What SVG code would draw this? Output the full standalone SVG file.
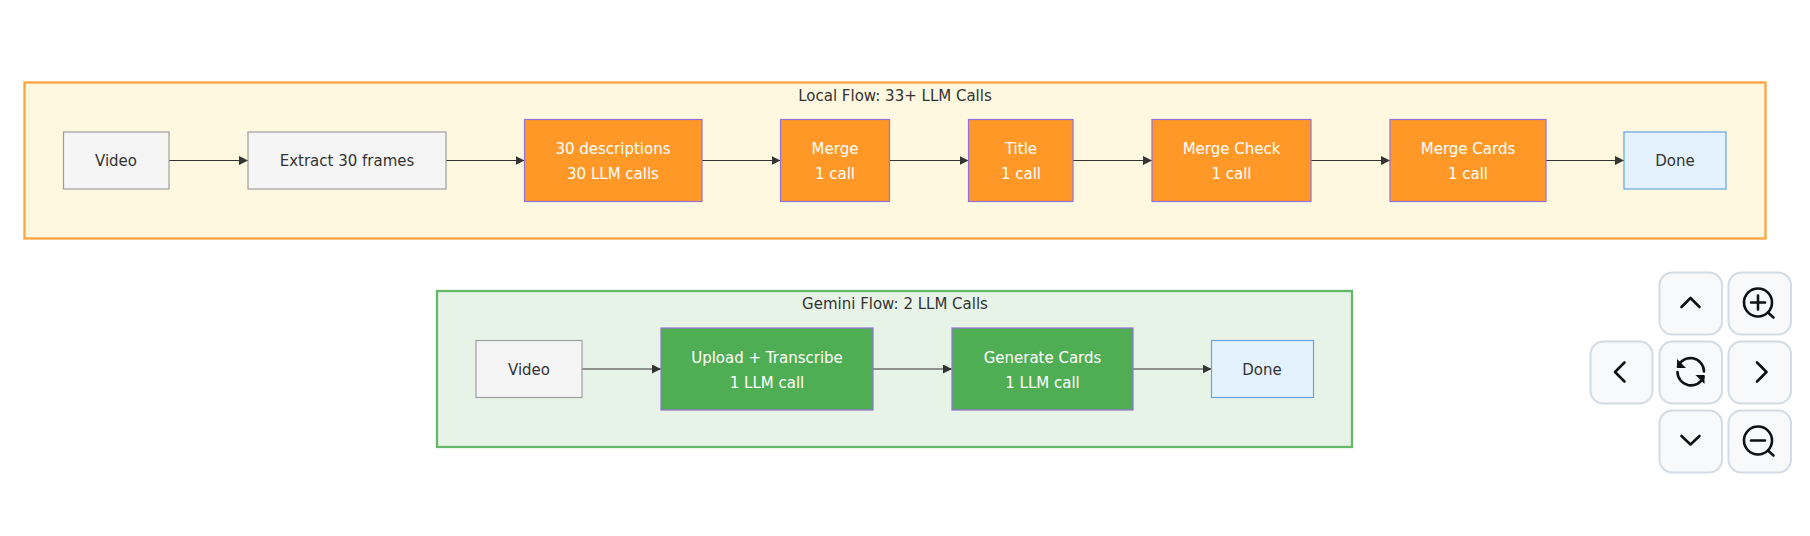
<svg xmlns="http://www.w3.org/2000/svg" width="1810" height="536" viewBox="0 0 1810 536">
<style>
text{font-family:"DejaVu Sans","Noto Sans",sans-serif;font-size:15px;text-anchor:middle;fill:#333}
.lt text{fill:#fff}
.cl{stroke-width:2.3}
.gray{fill:#f5f5f5;stroke:#9e9e9e;stroke-width:1.2}
.done{fill:#e3f2fd;stroke:#64a5e0;stroke-width:1.2}
.org{fill:#ff9827;stroke:#9370db;stroke-width:1.2}
.grn{fill:#4fae54;stroke:#9370db;stroke-width:1.2}
.edge{fill:none;stroke:#333;stroke-width:1.15;marker-end:url(#ah)}
.btn{fill:#f8f9fb;stroke:#d3dbe3;stroke-width:2}
.ic{fill:none;stroke:#111;stroke-width:2.6;stroke-linecap:round;stroke-linejoin:round}
</style>
<defs><marker id="ah" markerUnits="userSpaceOnUse" markerWidth="10" markerHeight="10" refX="9" refY="4.500" orient="auto"><path d="M0 0L9 4.500L0 9z" fill="#333"/></marker></defs>
<rect width="1810" height="536" fill="#fff"/>
<g id="local-flow"><rect class="cl" x="24.500" y="82.500" width="1741" height="156" fill="#fff8e1" stroke="#ffa43f"/><text x="895" y="100.500">Local Flow: 33+ LLM Calls</text></g>
<g id="gemini-flow"><rect class="cl" x="437" y="291" width="915" height="156" fill="#e8f3e8" stroke="#64b968"/><text x="895" y="309">Gemini Flow: 2 LLM Calls</text></g>
<g id="connectors">
<path class="edge" d="M169 160.500H248"/><path class="edge" d="M446 160.500H524.500"/><path class="edge" d="M702 160.500H780.500"/><path class="edge" d="M889.500 160.500H968.500"/><path class="edge" d="M1073 160.500H1152"/><path class="edge" d="M1311 160.500H1390"/><path class="edge" d="M1546 160.500H1624"/>
<path class="edge" d="M582 369H661"/><path class="edge" d="M873 369H952"/><path class="edge" d="M1133 369H1211.500"/>
</g>
<g id="a1"><rect class="gray" x="63.500" y="132" width="105.500" height="57"/><text x="116" y="166">Video</text></g>
<g id="a2"><rect class="gray" x="248" y="132" width="198" height="57"/><text x="347" y="166">Extract 30 frames</text></g>
<g id="a3" class="lt"><rect class="org" x="524.500" y="119.500" width="177.500" height="82"/><text x="613" y="154">30 descriptions</text><text x="613" y="179">30 LLM calls</text></g>
<g id="a4" class="lt"><rect class="org" x="780.500" y="119.500" width="109" height="82"/><text x="835" y="154">Merge</text><text x="835" y="179">1 call</text></g>
<g id="a5" class="lt"><rect class="org" x="968.500" y="119.500" width="104.500" height="82"/><text x="1021" y="154">Title</text><text x="1021" y="179">1 call</text></g>
<g id="a6" class="lt"><rect class="org" x="1152" y="119.500" width="159" height="82"/><text x="1231.500" y="154">Merge Check</text><text x="1231.500" y="179">1 call</text></g>
<g id="a7" class="lt"><rect class="org" x="1390" y="119.500" width="156" height="82"/><text x="1468" y="154">Merge Cards</text><text x="1468" y="179">1 call</text></g>
<g id="a8"><rect class="done" x="1624" y="132" width="102" height="57"/><text x="1675" y="166">Done</text></g>
<g id="b1"><rect class="gray" x="476" y="340.500" width="106" height="57"/><text x="529" y="374.500">Video</text></g>
<g id="b2" class="lt"><rect class="grn" x="661" y="328" width="212" height="82"/><text x="767" y="362.500">Upload + Transcribe</text><text x="767" y="387.500">1 LLM call</text></g>
<g id="b3" class="lt"><rect class="grn" x="952" y="328" width="181" height="82"/><text x="1042.500" y="362.500">Generate Cards</text><text x="1042.500" y="387.500">1 LLM call</text></g>
<g id="b4"><rect class="done" x="1211.500" y="340.500" width="102" height="57"/><text x="1262" y="374.500">Done</text></g>
<g id="controls">
<rect class="btn" x="1659.500" y="272.500" width="62.500" height="62" rx="13"/><rect class="btn" x="1728.500" y="272.500" width="62.500" height="62" rx="13"/>
<rect class="btn" x="1590.500" y="341.500" width="62" height="62" rx="13"/><rect class="btn" x="1659.500" y="341.500" width="62.500" height="62" rx="13"/><rect class="btn" x="1728.500" y="341.500" width="62.500" height="62" rx="13"/>
<rect class="btn" x="1659.500" y="410.500" width="62.500" height="62" rx="13"/><rect class="btn" x="1728.500" y="410.500" width="62.500" height="62" rx="13"/>
<path class="ic" d="M1681.500 307L1690.500 298L1699.500 307"/>
<path class="ic" d="M1681.500 436L1690.500 444.500L1699.500 436"/>
<path class="ic" d="M1624.500 362.500L1615 372L1624.500 381.500"/>
<path class="ic" d="M1757 362.500L1766.500 372L1757 381.500"/>
<circle class="ic" cx="1758" cy="302.500" r="14"/><path class="ic" d="M1768 312.500L1773.500 317.500M1751 302.500H1765M1758 295.500V309.500"/>
<circle class="ic" cx="1758" cy="440.500" r="14"/><path class="ic" d="M1768 450.500L1773.500 455.500M1751 440.500H1765"/>
<path class="ic" d="M1678 366.500A13.500 13.500 0 0 1 1704 371.500M1703.500 377A13.500 13.500 0 0 1 1677.500 372"/>
<path d="M1677 359L1686 368H1677z" fill="#111"/><path d="M1704.500 384L1695.500 375H1704.500z" fill="#111"/>
</g>
</svg>
